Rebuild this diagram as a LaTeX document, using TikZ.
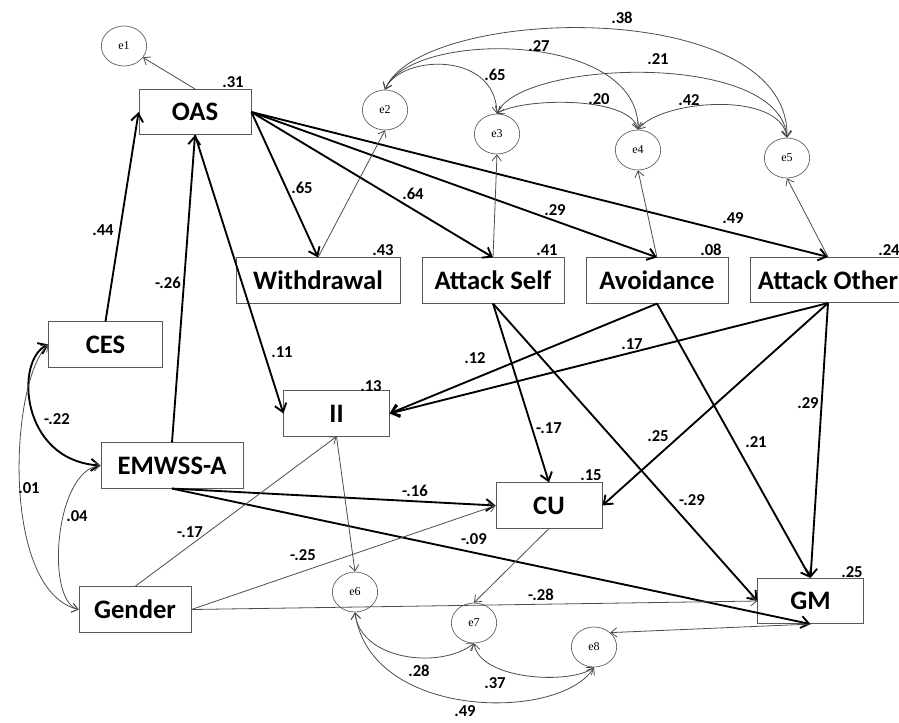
\documentclass[tikz,border=0pt]{standalone}
\usepackage{fontspec}
\setmainfont{Carlito}
\newfontfamily\errfont{Liberation Serif}
\usetikzlibrary{arrows.meta,shapes.geometric}
\begin{document}
\begin{tikzpicture}[x=0.75pt,y=-0.75pt]
            \tikzstyle{var} = [draw=black!65, line width=0.6pt, rectangle, minimum height=34pt, inner sep=0pt, font=\fontsize{20}{24}\selectfont\bfseries]
            \tikzstyle{err} = [draw=black!65, line width=0.5pt, ellipse, minimum width=34pt, minimum height=30pt, inner sep=0pt, font=\errfont\fontsize{9}{10}\selectfont]
            \tikzstyle{lab} = [inner sep=0pt, font=\fontsize{12.5}{14}\selectfont\bfseries]
            \tikzstyle{strong} = [line width=1.4pt, -{Straight Barb[length=6pt,width=9pt]}]
            \tikzstyle{weak} = [line width=0.6pt, draw=black!70, -{Straight Barb[length=4.5pt,width=7pt]}]
            \tikzstyle{cov} = [weak, {Straight Barb[length=4.5pt,width=7pt]}-{Straight Barb[length=4.5pt,width=7pt]}]
            \tikzstyle{bicov} = [strong, {Straight Barb[length=6pt,width=9pt]}-{Straight Barb[length=6pt,width=9pt]}]

            \useasboundingbox (0,0) rectangle (899,722);

            \node [var, minimum width=84pt] (OAS) at (195,112) {OAS};
            \node [var, minimum width=123pt] (Wd) at (318,280.5) {Withdrawal};
            \node [var, minimum width=106.5pt] (AS) at (493,280.5) {Attack Self};
            \node [var, minimum width=106.5pt] (Av) at (657,280.5) {Avoidance};
            \node [var, minimum width=116pt] (AO) at (828,280) {Attack Other};
            \node [var, minimum width=85pt] (CES) at (105.5,344.5) {CES};
            \node [var, minimum width=106.5pt] (EM) at (172,465.5) {EMWSS-A};
            \node [var, minimum width=79pt] (II) at (336.5,413.5) {II};
            \node [var, minimum width=79.5pt] (CU) at (549,505.5) {CU};
            \node [var, minimum width=84pt] (Gen) at (135,609.5) {Gender};
            \node [var, minimum width=79pt] (GM) at (810.5,601) {GM};

            \node [err] (e1) at (124,46) {e1};
            \node [err] (e2) at (385,110) {e2};
            \node [err] (e3) at (497,134) {e3};
            \node [err] (e4) at (638,150) {e4};
            \node [err] (e5) at (787,158) {e5};
            \node [err] (e6) at (355,592) {e6};
            \node [err] (e7) at (474,623) {e7};
            \node [err] (e8) at (594,647) {e8};

            \draw [weak] (OAS.north) -- (e1);
            \draw [strong] (CES.north) -- (OAS.west);
            \draw [strong] (EM.north) -- (OAS.south);
            \draw [strong] (OAS.south) -- (II.west);
            \draw [strong] (OAS.east) -- (Wd.north);
            \draw [strong] (OAS.east) -- (AS.north);
            \draw [strong] (OAS.east) -- (Av.north);
            \draw [strong] (OAS.east) -- (AO.north);
            \draw [weak] (Wd.north) -- (e2.south);
            \draw [weak] (AS.north) -- (e3.south);
            \draw [weak] (Av.north) -- (e4.south);
            \draw [weak] (AO.north) -- (e5.south);

            \draw [cov] (e2.north) .. controls (420,5) and (790,-5) .. (e5.north);
            \draw [cov] (e2.north) .. controls (410,30) and (640,30) .. (e4.north);
            \draw [cov] (e2.north) .. controls (400,55) and (495,50) .. (e3.north);
            \draw [cov] (e3.north) .. controls (520,98) and (630,95) .. (e4.north);
            \draw [cov] (e3.north) .. controls (520,60) and (780,50) .. (e5.north);
            \draw [cov] (e4.north) .. controls (660,100) and (780,90) .. (e5.north);

            \draw [bicov] (CES.west) .. controls (15,360) and (20,460) .. (EM.west);
            \draw [cov] (CES.west) .. controls (10,380) and (0,590) .. (Gen.west);
            \draw [cov] (EM.west) .. controls (55,470) and (45,600) .. (Gen.west);

            \draw [strong] (Av.south) -- (II.east);
            \draw [strong] (AO.south) -- (II.east);
            \draw [strong] (AS.south) -- (CU.north);
            \draw [strong] (AS.south) -- (GM.west);
            \draw [strong] (Av.south) -- (GM.north);
            \draw [strong] (AO.south) -- (CU.east);
            \draw [strong] (AO.south) -- (GM.north);
            \draw [strong] (EM.south) -- (CU.west);
            \draw [strong] (EM.south) -- (GM.south);
            \draw [weak] (Gen.north) -- (II.south);
            \draw [weak] (Gen.east) -- (CU.west);
            \draw [weak] (Gen.east) -- (GM.west);
            \draw [weak] (II.south) -- (e6.north);
            \draw [weak] (CU.south) -- (e7.north);
            \draw [weak] (GM.south) -- (e8.north east);

            \draw [cov] (e6.south) .. controls (360,660) and (440,670) .. (e7.south);
            \draw [cov] (e6.south) .. controls (370,720) and (560,722) .. (e8.south);
            \draw [cov] (e7.south) .. controls (480,680) and (570,685) .. (e8.south);

            \node [lab] (rOAS) at (233,82) {.31};
            \node [lab] (rWd) at (383,250) {.43};
            \node [lab] (rAS) at (547,250) {.41};
            \node [lab] (rAv) at (711,250) {.08};
            \node [lab] (rAO) at (889,250) {.24};
            \node [lab] (rII) at (371,386) {.13};
            \node [lab] (rCU) at (591,475) {.15};
            \node [lab] (rGM) at (852,572) {.25};

            \node [lab] (pCES) at (103,230) {.44};
            \node [lab] (pEM) at (168,283) {-.26};
            \node [lab] (pWd) at (302,188) {.65};
            \node [lab] (pAS) at (413,194) {.64};
            \node [lab] (pAv) at (555,210) {.29};
            \node [lab] (pAO) at (733,218) {.49};
            \node [lab] (pII) at (282,352) {.11};
            \node [lab] (pAvII) at (475,358) {.12};
            \node [lab] (pAOII) at (632,344) {.17};
            \node [lab] (pASCU) at (549,428) {-.17};
            \node [lab] (pAOCU) at (658,436) {.25};
            \node [lab] (pAvGM) at (756,442) {.21};
            \node [lab] (pAOGM) at (808,403) {.29};
            \node [lab] (pASGM) at (692,500) {-.29};
            \node [lab] (pEMCU) at (415,491) {-.16};
            \node [lab] (pEMGM) at (474,539) {-.09};
            \node [lab] (pGenII) at (190,532) {-.17};
            \node [lab] (pGenCU) at (303,555) {-.25};
            \node [lab] (pGenGM) at (541,595) {-.28};

            \node [lab] (c25) at (622,18) {.38};
            \node [lab] (c24) at (539,46) {.27};
            \node [lab] (c23) at (495,75) {.65};
            \node [lab] (c35) at (658,59) {.21};
            \node [lab] (c34) at (599,99) {.20};
            \node [lab] (c45) at (689,100) {.42};
            \node [lab] (cCE) at (57,419) {-.22};
            \node [lab] (cCG) at (29,488) {.01};
            \node [lab] (cEG) at (77,516) {.04};
            \node [lab] (c67) at (419,671) {.28};
            \node [lab] (c78) at (495,683) {.37};
            \node [lab] (c68) at (465,711) {.49};
\end{tikzpicture}
\end{document}
